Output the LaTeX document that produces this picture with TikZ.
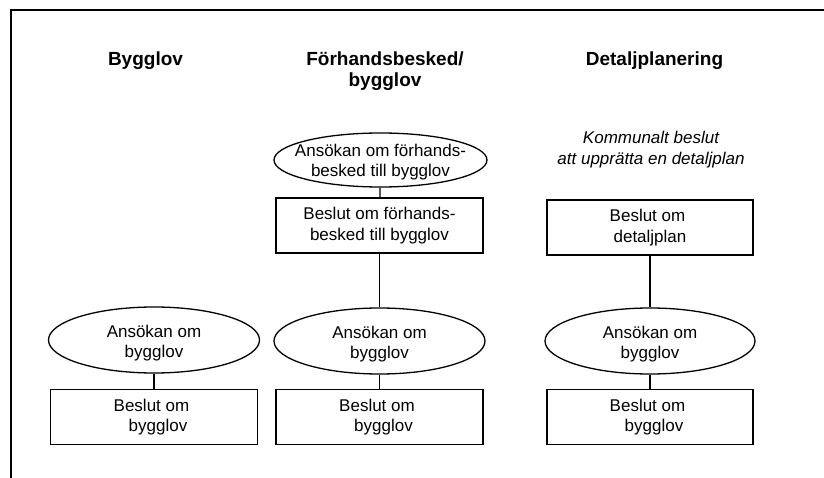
\documentclass[tikz,border=0pt]{standalone}
\usepackage{fontspec}
\setmainfont{Liberation Sans}
\usetikzlibrary{shapes.geometric}

\tikzset{
  body/.style={font=\fontsize{17}{20.5}\selectfont, align=center},
  head/.style={font=\fontsize{19}{21.3}\selectfont\bfseries, align=center},
  note/.style={font=\fontsize{17}{20.5}\selectfont\itshape, align=center},
  stagebox/.style={draw, line width=1.3pt, rectangle, minimum width=207pt,
    minimum height=55pt, inner sep=0pt, body},
  request/.style={draw, line width=1.3pt, ellipse, minimum width=211pt,
    minimum height=66pt, inner sep=0pt},
  inlabel/.style={body, inner sep=0pt},
  link/.style={line width=1.3pt},
  frame/.style={line width=2pt},
}

\begin{document}
\begin{tikzpicture}[x=1pt, y=-1pt]
  \useasboundingbox (0,0) rectangle (824,478);

  % outer frame (top and left edges)
  \coordinate (frTR) at (824,10);
  \coordinate (frC) at (11,10);
  \coordinate (frBL) at (11,478);
  \draw[frame] (frTR) -- (frC) -- (frBL);

  % column headings
  \node[head, anchor=base] (h1) at (145.5,66) {Bygglov};
  \node[head] (h2) at (385,71.4) {Förhandsbesked/\\bygglov};
  \node[head, anchor=base] (h3) at (654.5,66) {Detaljplanering};

  % column 1: bygglov
  \node[request, label={[inlabel, yshift=-3pt, name=a1t]center:Ansökan om\\bygglov}] (a1) at (154,340) {};
  \node[stagebox] (b1) at (154,417) {Beslut om\hspace*{5pt}\\\hspace*{8pt}bygglov};
  \draw[link] (a1) -- (b1);

  % column 2: förhandsbesked
  \node[request, minimum width=213pt, minimum height=54pt,
        label={[inlabel, yshift=-2pt, name=p2t]center:Ansökan om förhands-\\besked till bygglov}] (p2) at (380.5,160) {};
  \node[stagebox] (q2) at (379.5,225.5) {Beslut om förhands-\\besked till bygglov};
  \node[request, label={[inlabel, yshift=-3pt, name=a2t]center:Ansökan om\\bygglov}] (a2) at (379.5,341) {};
  \node[stagebox] (b2) at (379.5,417) {Beslut om\hspace*{5pt}\\\hspace*{8pt}bygglov};
  \draw[link] (p2) -- (q2);
  \draw[link] (q2) -- (a2);
  \draw[link] (a2) -- (b2);

  % column 3: detaljplanering
  \node[note] (k3) at (651,149.8) {Kommunalt beslut\\att upprätta en detaljplan};
  \node[stagebox, minimum width=206pt] (d3) at (650,227.5) {Beslut om\hspace*{5pt}\\detaljplan};
  \node[request, minimum width=210pt, label={[inlabel, yshift=-3pt, name=a3t]center:Ansökan om\\bygglov}] (a3) at (650,341) {};
  \node[stagebox, minimum width=206pt] (b3) at (650,417) {Beslut om\hspace*{5pt}\\\hspace*{8pt}bygglov};
  \draw[link] (d3) -- (a3);
  \draw[link] (a3) -- (b3);
\end{tikzpicture}
\end{document}
